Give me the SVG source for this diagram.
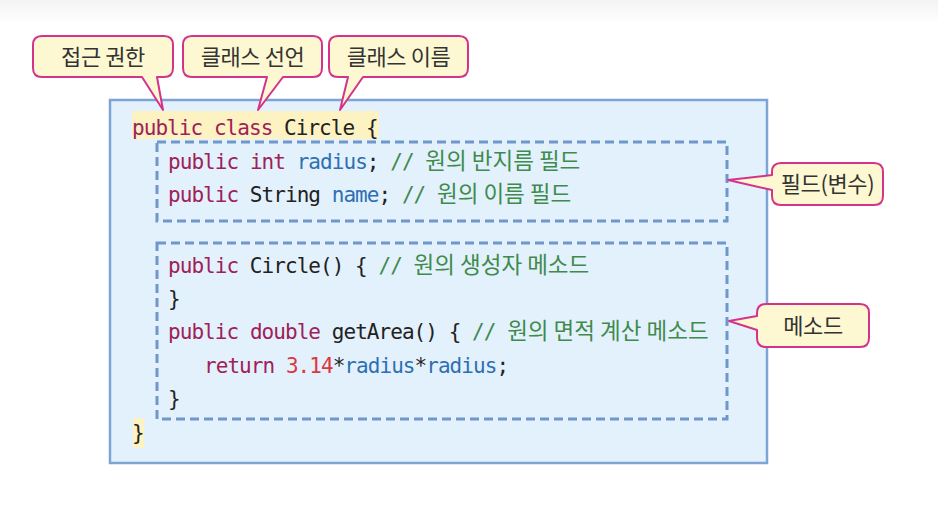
<svg xmlns="http://www.w3.org/2000/svg" width="938" height="516" viewBox="0 0 938 516">
<style>
.code{font-family:"DejaVu Sans Mono","Liberation Mono",monospace;font-size:21px;letter-spacing:-0.95px;fill:#222}
.kw{fill:#9e2159}
.var{fill:#2e6fb3}
.cm{fill:#3f8a4c}
.num{fill:#de363d}
.ko{font-family:"Noto Sans CJK KR","Noto Sans",sans-serif;font-size:22.5px;letter-spacing:0px}
.call{fill:#fdf8d2;stroke:#d4338b;stroke-width:2;stroke-linejoin:round}
.ctext{font-family:"Noto Sans CJK KR","Noto Sans",sans-serif;font-size:22px;letter-spacing:-0.4px;fill:#333;text-anchor:middle}
.dash{fill:none;stroke:#6f97cb;stroke-width:3;stroke-dasharray:9 5}
.hl{fill:#fcf2c2}
</style>
<defs>
<linearGradient id="topg" x1="0" y1="0" x2="0" y2="1">
<stop offset="0" stop-color="#f3f3f3"/>
<stop offset="1" stop-color="#ffffff"/>
</linearGradient>
</defs>
<rect width="938" height="516" fill="#fff"/>
<rect width="938" height="24" fill="url(#topg)"/>

<g id="class-box">
<rect x="110" y="100" width="657" height="363" fill="#e3f1fc" stroke="#7ea4d6" stroke-width="2.5"/>
<rect class="hl" x="132" y="111" width="247" height="28"/>
<rect class="hl" x="133" y="418" width="11" height="30"/>
</g>

<g id="field-box">
<rect class="dash" x="157" y="142" width="570" height="79"/>
</g>
<g id="method-box">
<rect class="dash" x="157" y="243" width="570" height="176"/>
</g>

<g id="code">
<text class="code" x="132" y="135"><tspan class="kw">public</tspan> <tspan class="kw">class</tspan> Circle {</text>
<text class="code" x="168" y="169"><tspan class="kw">public</tspan> <tspan class="kw">int</tspan> <tspan class="var">radius</tspan>; <tspan class="cm">// </tspan><tspan class="cm ko">원의 반지름 필드</tspan></text>
<text class="code" x="168" y="202"><tspan class="kw">public</tspan> String <tspan class="var">name</tspan>; <tspan class="cm">// </tspan><tspan class="cm ko">원의 이름 필드</tspan></text>
<text class="code" x="168" y="273"><tspan class="kw">public</tspan> Circle() { <tspan class="cm">// </tspan><tspan class="cm ko">원의 생성자 메소드</tspan></text>
<text class="code" x="168" y="306">}</text>
<text class="code" x="168" y="339"><tspan class="kw">public</tspan> <tspan class="kw">double</tspan> getArea() { <tspan class="cm">// </tspan><tspan class="cm ko">원의 면적 계산 메소드</tspan></text>
<text class="code" x="204" y="373"><tspan class="kw">return</tspan> <tspan class="num">3.14</tspan>*<tspan class="var">radius</tspan>*<tspan class="var">radius</tspan>;</text>
<text class="code" x="168" y="406">}</text>
<text class="code" x="132" y="440">}</text>
</g>

<g id="callout-access">
<path class="call" d="M42,36 H164 Q173,36 173,45 V68 Q173,77 164,77 H157 L163,110 L142,77 H42 Q33,77 33,68 V45 Q33,36 42,36 Z"/>
<text class="ctext" x="103" y="65">접근 권한</text>
</g>
<g id="callout-decl">
<path class="call" d="M192,36 H313 Q322,36 322,45 V68 Q322,77 313,77 H283 L258,110 L267,77 H192 Q183,77 183,68 V45 Q183,36 192,36 Z"/>
<text class="ctext" x="252.5" y="65">클래스 선언</text>
</g>
<g id="callout-name">
<path class="call" d="M338,36 H459 Q468,36 468,45 V68 Q468,77 459,77 H363 L340,110 L348,77 H338 Q329,77 329,68 V45 Q329,36 338,36 Z"/>
<text class="ctext" x="398.5" y="65">클래스 이름</text>
</g>
<g id="callout-field">
<path class="call" d="M781,163 H874 Q883,163 883,172 V196 Q883,205 874,205 H781 Q772,205 772,196 V190 L728,180 L772,175 V172 Q772,163 781,163 Z"/>
<text class="ctext" x="827.5" y="192">필드(변수)</text>
</g>
<g id="callout-method">
<path class="call" d="M766,304 H860 Q869,304 869,313 V338 Q869,347 860,347 H766 Q757,347 757,338 V330 L729,321 L757,316 V313 Q757,304 766,304 Z"/>
<text class="ctext" x="813" y="334">메소드</text>
</g>
</svg>
